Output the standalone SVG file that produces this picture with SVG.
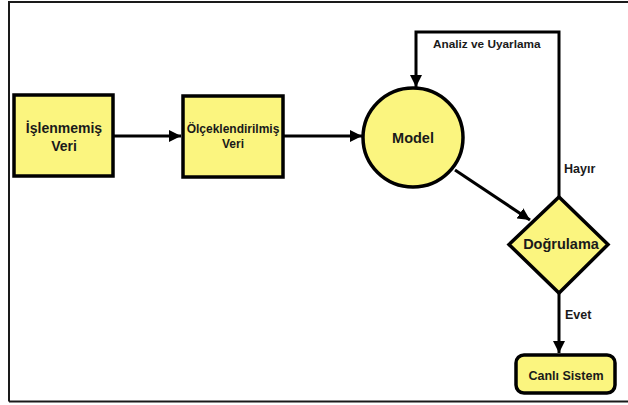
<svg xmlns="http://www.w3.org/2000/svg" width="628" height="405" viewBox="0 0 628 405">
<defs>
<style>
.node{fill:#FBF57F;stroke:#000;stroke-width:3.5}
.lbl{font-family:"Liberation Sans",Arial,sans-serif;font-weight:bold;fill:#1a1a1a;text-anchor:middle}
.edge{fill:none;stroke:#000;stroke-width:3}
.elbl{font-family:"Liberation Sans",Arial,sans-serif;font-weight:bold;fill:#1a1a1a;font-size:12.5px}
</style>
<marker id="ah" viewBox="0 0 10 10" refX="10" refY="5" markerWidth="4" markerHeight="4" markerUnits="strokeWidth" orient="auto">
<path d="M0,0 L10,5 L0,10 z" fill="#000"/>
</marker>
</defs>
<rect width="628" height="405" fill="#fff"/>
<path d="M9,401.5 L9,2 L640,2 M9,401.5 L640,401.5" fill="none" stroke="#1a1a1a" stroke-width="2"/>
<g id="connectors">
<line class="edge" x1="113" y1="136" x2="181" y2="136" marker-end="url(#ah)"/>
<line class="edge" x1="283" y1="136" x2="362" y2="136" marker-end="url(#ah)"/>
<path class="edge" d="M559,197 L559,32 L416,32 L416,87" marker-end="url(#ah)"/>
<line class="edge" x1="455" y1="170" x2="530" y2="220" marker-end="url(#ah)"/>
<line class="edge" x1="559" y1="293" x2="559" y2="353" marker-end="url(#ah)"/>
<text class="elbl" x="433" y="48" style="font-size:11.8px">Analiz ve Uyarlama</text>
<text class="elbl" x="564" y="173">Hayır</text>
<text class="elbl" x="565" y="319">Evet</text>
</g>
<g id="raw">
<rect class="node" x="14" y="95" width="99" height="81"/>
<text class="lbl" x="64" y="133" font-size="14">İşlenmemiş</text>
<text class="lbl" x="64" y="151" font-size="14">Veri</text>
</g>
<g id="scaled">
<rect class="node" x="183" y="96" width="100" height="81"/>
<text class="lbl" x="233" y="133" font-size="12">Ölçeklendirilmiş</text>
<text class="lbl" x="233" y="148" font-size="12">Veri</text>
</g>
<g id="model">
<ellipse class="node" cx="413" cy="137.5" rx="50" ry="49.5"/>
<text class="lbl" x="413" y="143" font-size="14.5">Model</text>
</g>
<g id="validation">
<polygon class="node" points="559,197 608,244.5 559,293 509,244.5"/>
<text class="lbl" x="561" y="249" font-size="14.5">Doğrulama</text>
</g>
<g id="live">
<rect class="node" x="516" y="355" width="99" height="38" rx="8" ry="8"/>
<text class="lbl" x="566" y="380" font-size="12.5">Canlı Sistem</text>
</g>
</svg>
